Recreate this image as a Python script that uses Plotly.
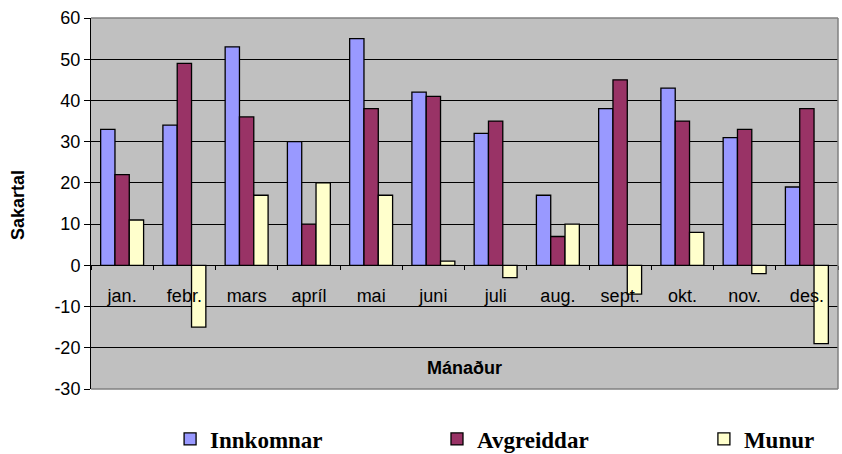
import plotly.graph_objects as go

months = ["jan.", "febr.", "mars", "apríl", "mai", "juni", "juli", "aug.", "sept.", "okt.", "nov.", "des."]
innkomnar = [33, 34, 53, 30, 55, 42, 32, 17, 38, 43, 31, 19]
avgreiddar = [22, 49, 36, 10, 38, 41, 35, 7, 45, 35, 33, 38]
munur = [11, -15, 17, 20, 17, 1, -3, 10, -7, 8, -2, -19]
y_ticks = [-30, -20, -10, 0, 10, 20, 30, 40, 50, 60]

series = [
    ("Innkomnar", innkomnar, "#9999FF", "legend"),
    ("Avgreiddar", avgreiddar, "#993366", "legend2"),
    ("Munur", munur, "#FFFFCC", "legend3"),
]

fig = go.Figure()
for name, vals, col, lg in series:
    fig.add_trace(go.Bar(
        x=months, y=vals, name=name, legend=lg,
        marker=dict(color=col, line=dict(color="black", width=1.3)),
    ))

legend_font = dict(family="Liberation Serif", size=23, color="black", weight="bold")

def leg(x):
    return dict(x=x, xref="container", xanchor="left",
                y=0.033, yref="container", yanchor="middle",
                font=legend_font, bgcolor="rgba(0,0,0,0)",
                itemwidth=30)

fig.update_layout(
    width=842, height=454,
    margin=dict(l=91, r=4, t=18, b=65, autoexpand=False),
    paper_bgcolor="white",
    plot_bgcolor="#C0C0C0",
    barmode="group",
    bargap=0.31,
    bargroupgap=0,
    font=dict(family="Arial, Liberation Sans", size=18, color="black"),
    showlegend=True,
    legend=leg(0.202),
    legend2=leg(0.519),
    legend3=leg(0.836),
    xaxis=dict(
        type="category",
        anchor="free", position=1/3,
        showline=True, linecolor="black", linewidth=1,
        ticks="outside", tickson="boundaries", ticklen=4, tickcolor="black",
        ticklabelstandoff=14, tickangle=0,
        showgrid=False,
        tickfont=dict(size=18),
    ),
    yaxis=dict(
        range=[-30, 60],
        tickvals=y_ticks, ticktext=[str(v) for v in y_ticks],
        showline=True, linecolor="black", linewidth=1,
        ticks="outside", ticklen=6, tickcolor="black",
        showgrid=True, gridcolor="black", gridwidth=1,
        zeroline=False,
        tickfont=dict(size=18),
    ),
)

# gray plot-area border (top, right, bottom)
for x0, y0, x1, y1 in [(0, 1, 1, 1), (1, 0, 1, 1), (0, 0, 1, 0)]:
    fig.add_shape(type="line", xref="paper", yref="paper", x0=x0, y0=y0, x1=x1, y1=y1,
                  line=dict(color="#808080", width=1.5), layer="above")

fig.add_annotation(text="<b>Mánaður</b>", xref="paper", yref="paper",
                   x=0.5, y=0.057, yanchor="middle", showarrow=False, font=dict(size=18))
fig.add_annotation(text="<b>Sakartal</b>", xref="paper", yref="paper",
                   x=(18 - 91) / 747, y=(389 - 205) / 371, xanchor="center", yanchor="middle",
                   textangle=-90, showarrow=False, font=dict(size=18))

fig.write_html("out.html", config={"displayModeBar": False},
               post_script="document.body.style.margin='0';")
